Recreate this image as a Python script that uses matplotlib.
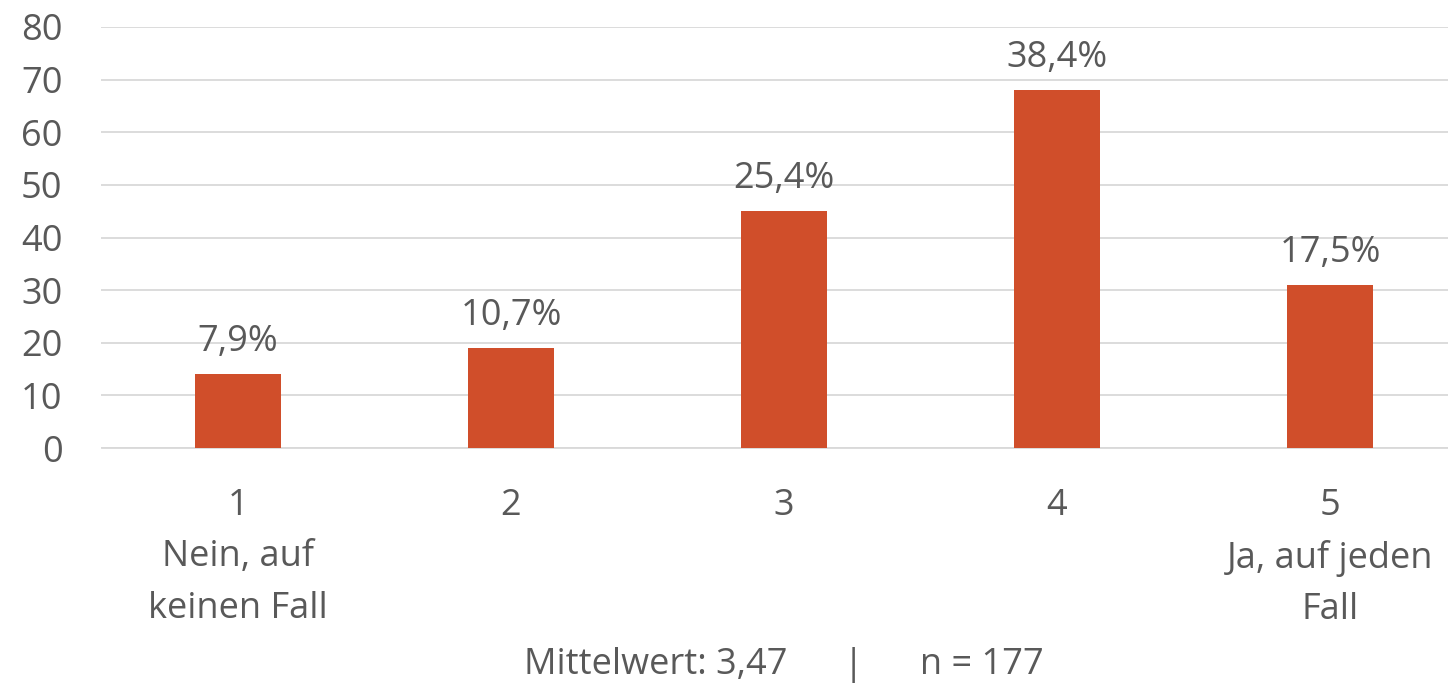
import matplotlib
matplotlib.use("Agg")
import matplotlib.pyplot as plt

plt.rcParams['font.family'] = ['Open Sans', 'DejaVu Sans']

# data
categories = ['1\nNein, auf\nkeinen Fall', '2', '3', '4', '5\nJa, auf jeden\nFall']
counts = [14, 19, 45, 68, 31]
labels = ['7,9%', '10,7%', '25,4%', '38,4%', '17,5%']
footer = 'Mittelwert: 3,47      |      n = 177'

bar_color = '#D04E2A'
text_color = '#595959'
grid_color = '#D9D9D9'
fs = 26

W, H = 1448, 688
fig = plt.figure(figsize=(W / 100, H / 100), dpi=100)
left_px, step_px = 101.5, 273
ax = fig.add_axes([left_px / W, (H - 448) / H, 1 - left_px / W, (448 - 27) / H])

x = range(len(categories))
bars = ax.bar(x, counts, width=0.315, color=bar_color, zorder=3)
for b, lab in zip(bars, labels):
    ax.annotate(lab, (b.get_x() + b.get_width() / 2, b.get_height()),
                xytext=(0, 10), textcoords='offset points',
                ha='center', va='bottom', fontsize=fs, color=text_color)

ax.set_xlim(-0.5, -0.5 + (W - left_px) / step_px)
ax.set_ylim(0, 80)
ax.set_yticks(range(0, 81, 10))
ax.yaxis.grid(True, color=grid_color, linewidth=1.3, zorder=0)
ax.set_xticks(list(x))
ax.set_xticklabels(categories, linespacing=1.56)
ax.tick_params(axis='both', length=0, labelsize=fs, colors=text_color)
ax.tick_params(axis='y', pad=28)
ax.tick_params(axis='x', pad=29)
for s in ['top', 'right', 'left']:
    ax.spines[s].set_visible(False)
ax.spines['bottom'].set_color(grid_color)
ax.spines['bottom'].set_linewidth(1.3)

fig.text(784 / W, 1 - 665 / H, footer, ha='center', va='center',
         fontsize=fs, color=text_color)

fig.savefig('out.png', dpi=100, facecolor='white')
